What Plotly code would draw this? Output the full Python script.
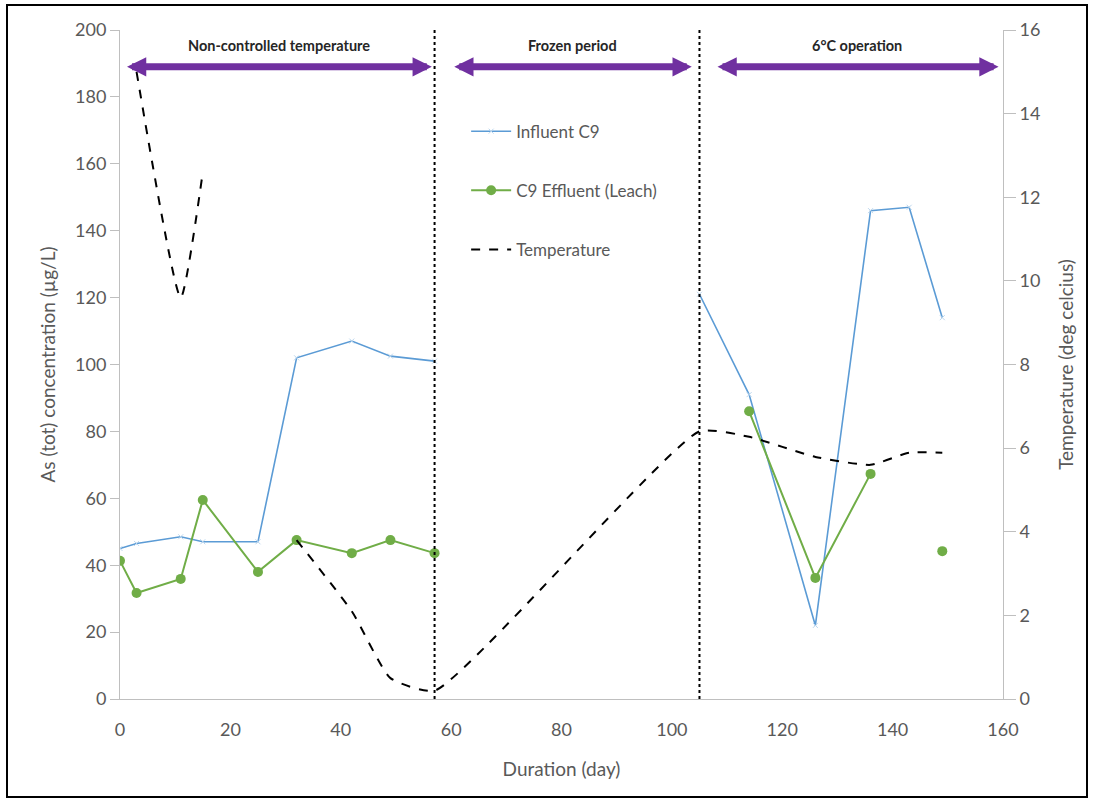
import plotly.graph_objects as go

# Influent arsenic (µg/L); no samples during the frozen period
influent_day = [0, 3, 11, 15, 25, 32, 42, 49, 57, 80, 105, 114, 126, 136, 143, 149]
influent_as = [45, 46.5, 48.5, 47, 47, 102, 107, 102.5, 101, None, 121, 91, 22, 146, 147, 114]

# Effluent arsenic (µg/L); no samples during the frozen period nor on day 143
effluent_day = [0, 3, 11, 15, 25, 32, 42, 49, 57, 80, 114, 126, 136, 143, 149]
effluent_as = [41.3, 31.7, 35.9, 59.5, 38, 47.5, 43.6, 47.5, 43.6, None, 86, 36.2, 67.3, None, 44.2]

# Temperature (deg C); gap between day 15 and day 32
temp_day = [3, 11, 15, 25, 32, 42, 49, 57, 105, 114, 126, 136, 143, 149]
temp_c = [15.0, 9.6, 12.6, None, 3.8, 2.1, 0.5, 0.2, 6.4, 6.27, 5.79, 5.6, 5.89, 5.89]

# Operating periods: (label, start day, end day)
periods = [
    ("Non-controlled temperature", 1, 56.5),
    ("Frozen period", 60.3, 103.6),
    ("6°C operation", 108, 159.2),
]
period_breaks = [57, 105]
arrow_level = 189

GRAY = "#595959"
AXIS_GRAY = "#BFBFBF"
PURPLE = "#7030A0"
FONT = "Lato"

fig = go.Figure()

fig.add_trace(go.Scatter(
    x=influent_day, y=influent_as, name="Influent C9", mode="lines+markers",
    line=dict(color="#5B9BD5", width=1.6),
    marker=dict(symbol="x-thin", size=5, color="#BDD7EE", line=dict(width=1, color="#BDD7EE")),
    connectgaps=False, legendgroup="a",
))
fig.add_trace(go.Scatter(
    x=effluent_day, y=effluent_as, name="C9 Effluent (Leach)", mode="lines+markers",
    line=dict(color="#70AD47", width=2),
    marker=dict(symbol="circle", size=10, color="#70AD47"),
    connectgaps=False, legendgroup="b",
))
fig.add_trace(go.Scatter(
    x=temp_day, y=temp_c, name="Temperature", mode="lines", yaxis="y2",
    line=dict(color="black", width=2, dash="dash", shape="spline", smoothing=0.5),
    connectgaps=False, legendgroup="c",
))

# Period boundaries
for d in period_breaks:
    fig.add_shape(type="line", xref="x", yref="paper", x0=d, x1=d, y0=0, y1=1,
                  line=dict(color="black", width=2, dash="dot"))

# Double-headed period arrows and their titles
for label, start, end in periods:
    fig.add_annotation(
        x=end, y=arrow_level, ax=start, ay=arrow_level,
        xref="x", yref="y", axref="x", ayref="y",
        text="", showarrow=True, arrowhead=2, arrowside="end+start",
        arrowsize=0.55, arrowwidth=7, arrowcolor=PURPLE,
    )
    fig.add_annotation(
        x=(start + end) / 2, y=arrow_level + 3.2, xref="x", yref="y",
        text=f"<b>{label}</b>", showarrow=False,
        font=dict(family=FONT, size=14.5, color="#262626"), yanchor="bottom",
    )

fig.update_layout(
    width=1096, height=801,
    margin=dict(l=120, r=93, t=30, b=102),
    paper_bgcolor="white", plot_bgcolor="white",
    font=dict(family=FONT, color=GRAY),
    showlegend=True,
    legend=dict(
        x=0.392, y=0.875, xanchor="left", yanchor="top",
        font=dict(family=FONT, size=17, color=GRAY),
        bgcolor="rgba(0,0,0,0)", tracegroupgap=34, itemwidth=40,
    ),
    xaxis=dict(
        range=[0, 160], dtick=20, showgrid=False, zeroline=False,
        showline=True, linecolor=AXIS_GRAY, linewidth=1,
        ticks="outside", ticklen=14, tickcolor="rgba(0,0,0,0)",
        tickfont=dict(size=18, color=GRAY, family=FONT),
        title=dict(text="Duration (day)", font=dict(size=19, color=GRAY, family=FONT), standoff=24),
    ),
    yaxis=dict(
        range=[0, 200], dtick=20, showgrid=False, zeroline=False,
        showline=True, linecolor=AXIS_GRAY, linewidth=1,
        ticks="outside", ticklen=9, tickcolor=AXIS_GRAY,
        tickfont=dict(size=18, color=GRAY, family=FONT),
        title=dict(text="As (tot) concentration (µg/L)", font=dict(size=19, color=GRAY, family=FONT), standoff=14),
    ),
    yaxis2=dict(
        range=[0, 16], dtick=2, overlaying="y", side="right",
        showgrid=False, zeroline=False,
        showline=True, linecolor=AXIS_GRAY, linewidth=1,
        ticks="outside", ticklen=12, tickcolor=AXIS_GRAY,
        tickfont=dict(size=18, color=GRAY, family=FONT),
        title=dict(text="Temperature (deg celcius)", font=dict(size=19, color=GRAY, family=FONT), standoff=20),
    ),
)

# Outer frame around the whole chart
fig.add_shape(type="rect", xref="paper", yref="paper",
              x0=-113 / 883, x1=(1087 - 120) / 883,
              y0=-98 / 669, y1=1 + 25 / 669,
              line=dict(color="black", width=2))

fig.write_html("out.html")
